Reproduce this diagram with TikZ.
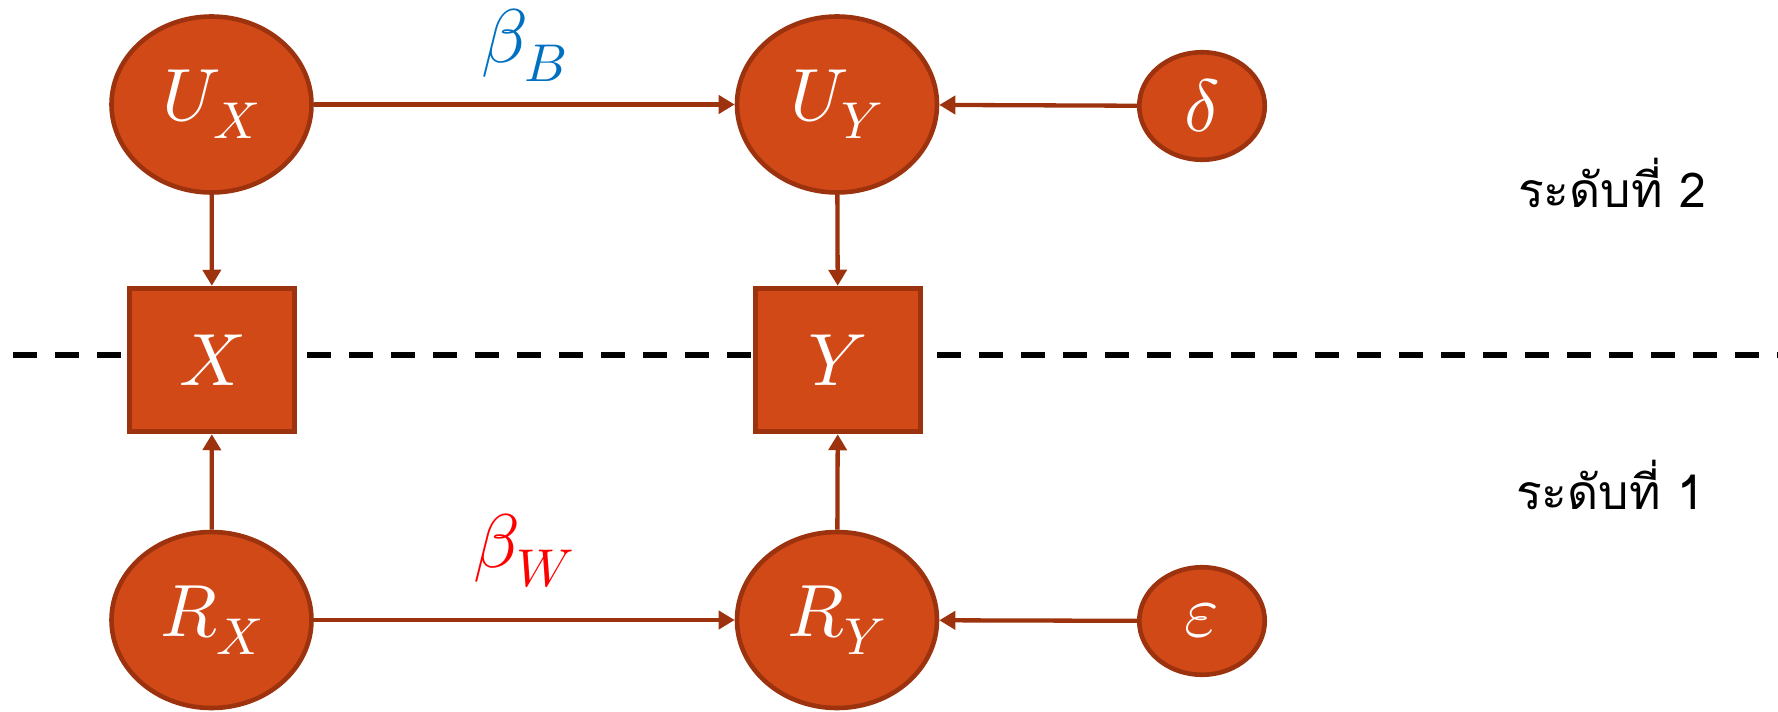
\documentclass[tikz,border=0pt]{standalone}
\usepackage{fontspec}
\usepackage{unicode-math}
\setmathfont{Latin Modern Math}
\newfontfamily\thaifont[Script=Thai]{Loma}
\usetikzlibrary{arrows.meta,shapes.geometric}
\definecolor{nodefill}{RGB}{210,73,24}
\definecolor{nodeline}{RGB}{156,51,14}
\definecolor{betablue}{RGB}{0,112,192}
\definecolor{betared}{RGB}{255,0,0}
\begin{document}
\begin{tikzpicture}[x=0.5pt,y=-0.5pt,
  bigell/.style={ellipse, fill=nodefill, draw=nodeline, line width=2.3pt, inner sep=0pt,
    minimum width=100pt, minimum height=88pt, text=white, font=\fontsize{37}{40}\selectfont},
  smallell/.style={ellipse, fill=nodefill, draw=nodeline, line width=2.3pt, inner sep=0pt,
    minimum width=62.75pt, minimum height=53.75pt, text=white, font=\fontsize{37}{40}\selectfont},
  varbox/.style={rectangle, fill=nodefill, draw=nodeline, line width=2.75pt, inner sep=0pt,
    minimum width=82.5pt, minimum height=71.5pt, text=white, font=\fontsize{37}{40}\selectfont},
  arr/.style={draw=nodeline, line width=2.15pt, -{Triangle[length=8pt,width=9pt]}},
  coef/.style={inner sep=0pt, font=\fontsize{38}{40}\selectfont},
  lvl/.style={inner sep=0pt, anchor=base, font=\thaifont\fontsize{24}{27}\selectfont}]
\useasboundingbox (0,0) rectangle (1778,712);
% dashed level divider
\coordinate (dl) at (13,355);
\coordinate (dr) at (1778,355);
\draw[line width=2.75pt, dash pattern=on 12pt off 9pt] (dl) -- (dr);
% nodes
\node[bigell] (UX) at (211.5,104.5) {$U_X$};
\node[bigell] (UY) at (837,104.5) {$U_Y$};
\node[smallell] (d) at (1202,106) {$\delta$};
\node[varbox] (X) at (212,360) {$X$};
\node[varbox] (Y) at (838,360) {$Y$};
\node[bigell] (RX) at (211.5,620) {$R_X$};
\node[bigell] (RY) at (837,620) {$R_Y$};
\node[smallell] (e) at (1202,621) {$\varepsilon$};
% coefficient labels
\node[coef, text=betablue] (bB) at (524,45) {$\beta_B$};
\node[coef, text=betared] (bW) at (524,551) {$\beta_W$};
% level labels
\node[lvl] (lv2) at (1612,207) {ระดับที่ 2};
\node[lvl] (lv1) at (1610,509) {ระดับที่ 1};
% connectors
\draw[arr] (UX) -- (UY);
\draw[arr] (d) -- (UY);
\draw[arr] (UX) -- (X);
\draw[arr] (UY) -- (Y);
\draw[arr] (RX) -- (X);
\draw[arr] (RY) -- (Y);
\draw[arr] (RX) -- (RY);
\draw[arr] (e) -- (RY);
\end{tikzpicture}
\end{document}
